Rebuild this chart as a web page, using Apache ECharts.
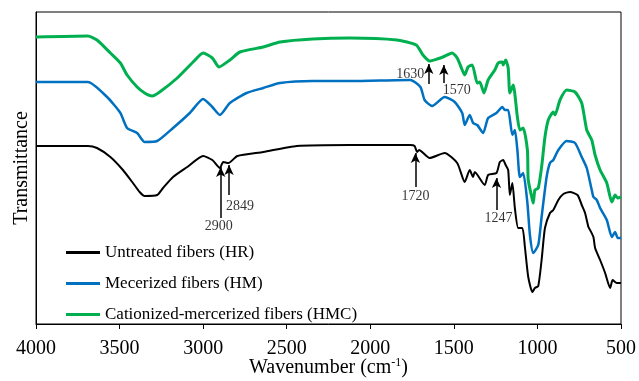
<!DOCTYPE html>
<html><head><meta charset="utf-8">
<script src="https://cdn.jsdelivr.net/npm/echarts@6/dist/echarts.min.js"></script>
<style>html,body{margin:0;padding:0;background:#fff}#c{width:639px;height:381px}</style>
</head><body><div id="c"></div>
<script>
// ---- data (wavenumber in cm-1, transmittance in arbitrary units) ----
const seriesNames = ['Untreated fibers (HR)', 'Mecerized fibers (HM)', 'Cationized-mercerized fibers (HMC)'];
const xTicks = [4000, 3500, 3000, 2500, 2000, 1500, 1000, 500];

const hrWn = [4000,3690,3635,3555,3480,3420,3380,3350,3275,3240,3180,3095,3000,2945,2900,2880,2849,2795,2640,2440,2120,1760,1735,1720,1708,1645,1555,1480,1435,1405,1385,1375,1315,1295,1245,1225,1205,1190,1175,1165,1150,1135,1115,1090,1075,1055,1030,1015,995,975,955,925,905,875,845,805,760,735,715,695,685,665,655,625,595,565,550,525,500];
const hrT  = [178,178,176,167,154,141,132,128,129,136,147,157,168,164,156,162,161,168,172,178,179,179,178,172,174,166,171,161,142,154,147,152,139,149,151,162,164,159,154,129,141,116,96,96,77,47,32,36,38,64,96,111,114,124,130,132,129,119,111,97,94,87,76,64,51,36,44,41,41];

const hmWn = [4000,3690,3575,3495,3455,3395,3350,3275,3180,3080,3000,2945,2900,2840,2740,2640,2540,2345,2120,1760,1700,1675,1630,1555,1495,1450,1435,1405,1385,1360,1325,1295,1245,1210,1195,1175,1150,1135,1120,1105,1085,1060,1045,1025,995,975,945,925,905,875,825,775,735,705,675,665,645,625,585,555,535,520,500];
const hmT  = [242,242,227,211,196,191,182,183,196,211,225,217,209,221,231,236,241,243,243,244,237,224,218,227,222,211,199,209,201,199,191,206,211,217,214,214,189,194,174,147,151,121,89,71,79,107,147,161,164,174,183,181,167,156,134,127,124,116,104,87,92,86,86];

const hmcWn = [4000,3690,3635,3555,3495,3455,3395,3350,3305,3260,3155,3060,3000,2945,2905,2840,2780,2640,2540,2345,2120,1840,1725,1685,1645,1600,1565,1510,1480,1450,1435,1415,1390,1360,1345,1320,1295,1255,1235,1210,1205,1190,1175,1165,1145,1120,1105,1085,1060,1055,1030,1025,1015,995,975,955,935,905,895,865,825,775,735,705,675,655,625,585,555,535,520,500];
const hmcT  = [287,288,284,271,261,249,237,231,228,232,246,262,271,266,257,264,272,277,282,285,286,284,279,269,263,265,267,271,266,254,249,257,259,241,242,231,244,254,261,262,259,264,256,231,239,207,194,196,174,144,124,121,134,136,157,187,204,212,209,224,234,232,221,194,184,169,154,141,122,129,126,127];

// band annotations
const annLabel = ['2900','2849','1720','1247','1630','1570'];
const annX     = [2895, 2845, 1730, 1245, 1650, 1560];
const annTip   = [157, 159, 171, 146, 260, 259];
const annTail  = [106, 129, 137, 114, 240, 241];

// ---- chart ----
const FONT = '"Liberation Serif","Times New Roman",serif';
const zip = (a, b) => a.map((v, i) => [v, b[i]]);
const colors = ['#000000', '#0070C0', '#00B050'];
const widths = [2, 2.5, 3];

// label placement for each annotation (style only)
const annPlace = [
  {position: 'bottom', distance: 1, offset: [-2, 0]},
  {position: 'bottom', distance: 4, offset: [11, 0]},
  {position: 'bottom', distance: 2, offset: [0, 0]},
  {position: 'bottom', distance: 1, offset: [2, 0]},
  {position: 'left', distance: 4, offset: [0, -10]},
  {position: 'bottom', distance: 0, offset: [13, 0]}
];

const chart = echarts.init(document.getElementById('c'));
const lineData = [zip(hrWn, hrT), zip(hmWn, hmT), zip(hmcWn, hmcT)];

const series = seriesNames.map((n, i) => ({
  name: n, type: 'line', data: lineData[i], showSymbol: false, symbol: 'none',
  smooth: 0.2, lineStyle: {color: colors[i], width: widths[i]}, itemStyle: {color: colors[i]},
  emphasis: {disabled: true}, z: 3 - i
}));

series.push({
  name: 'annotations', type: 'scatter', symbolSize: 1, itemStyle: {color: 'rgba(0,0,0,0)'},
  emphasis: {disabled: true}, silent: true, z: 5,
  data: annX.map((x, i) => ({
    value: [x, annTail[i]],
    label: Object.assign({show: true, formatter: annLabel[i], color: '#000', fontFamily: FONT, fontSize: 14}, annPlace[i])
  })),
  markLine: {
    silent: true, symbol: ['none', 'arrow'], symbolSize: [7, 10], animation: false,
    lineStyle: {color: '#000', width: 1.5, type: 'solid'}, label: {show: false},
    data: annX.map((x, i) => [{coord: [x, annTail[i]]}, {coord: [x, annTip[i]]}])
  }
});

chart.setOption({
  animation: false,
  backgroundColor: '#fff',
  grid: {left: 36, right: 18, top: 12, bottom: 57, show: true, borderColor: '#000', borderWidth: 1,
    outerBoundsMode: 'none', containLabel: false},
  xAxis: {
    type: 'value', inverse: true, min: 500, max: 4000, interval: 500,
    axisLine: {lineStyle: {color: '#000', width: 1}},
    axisTick: {length: 5, lineStyle: {color: '#000'}},
    axisLabel: {color: '#000', fontFamily: FONT, fontSize: 20, margin: 15,
      formatter: v => xTicks.includes(v) ? String(v) : ''},
    splitLine: {show: false},
    name: 'Wavenumber (cm{sup|-1})', nameLocation: 'middle', nameGap: 33, nameMoveOverlap: false,
    nameTextStyle: {color: '#000', fontFamily: FONT, fontSize: 20,
      rich: {sup: {fontFamily: FONT, fontSize: 12, color: '#000', verticalAlign: 'top', padding: [0, 0, 10, 0]}}}
  },
  yAxis: {
    type: 'value', min: 0, max: 312,
    axisLine: {show: true, lineStyle: {color: '#000', width: 1}},
    axisTick: {show: false}, axisLabel: {show: false}, splitLine: {show: false},
    name: 'Transmittance', nameLocation: 'middle', nameGap: 4,
    nameTextStyle: {color: '#000', fontFamily: FONT, fontSize: 20}
  },
  legend: {
    data: seriesNames, orient: 'vertical', left: 66, top: 244, padding: 0,
    icon: 'rect', itemWidth: 34, itemHeight: 3, itemGap: 14,
    textStyle: {fontFamily: FONT, fontSize: 17, color: '#000'},
    selectedMode: false
  },
  series: series
});
</script>
</body></html>
